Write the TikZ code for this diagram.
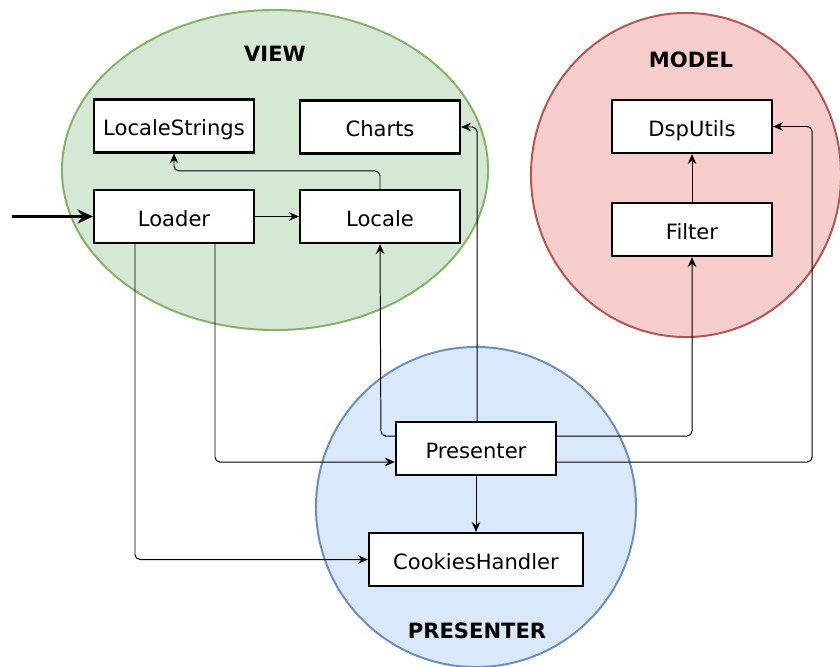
\documentclass[tikz,border=0pt]{standalone}
\usepackage{fontspec}
\setmainfont{DejaVu Sans}
\usetikzlibrary{arrows.meta,calc}
\definecolor{viewfill}{HTML}{D5E8D4}
\definecolor{viewline}{HTML}{82B366}
\definecolor{modelfill}{HTML}{F8CECC}
\definecolor{modelline}{HTML}{B85450}
\definecolor{presfill}{HTML}{DAE8FC}
\definecolor{presline}{HTML}{6C8EBF}
\newcommand{\boxfont}{\fontsize{15}{18}\selectfont}

\begin{document}
\begin{tikzpicture}[x=0.025cm, y=-0.025cm,
    module/.style={draw, line width=1.5pt, fill=white, minimum width=4cm, minimum height=1.325cm, text height=14pt, text depth=0pt, font=\boxfont},
    layer/.style={font=\boxfont\bfseries},
    conn/.style={-{Stealth[length=7pt,width=6pt]}, line width=0.7pt, rounded corners=3.5pt},
    inarrow/.style={-{Stealth[length=11pt,width=10pt]}, line width=2.1pt}]
      \useasboundingbox (0,0) rectangle (840,666);
      \draw[fill=viewfill, draw=viewline, line width=1.4pt] (275,170) ellipse [x radius=5.325cm, y radius=4cm];
      \draw[fill=modelfill, draw=modelline, line width=1.4pt] (686,175) ellipse [x radius=3.875cm, y radius=4.05cm];
      \draw[fill=presfill, draw=presline, line width=1.4pt] (476,507) ellipse [x radius=4cm, y radius=4cm];
      \node[layer] (ViewLbl) at (275,54) {VIEW};
      \node[layer] (ModelLbl) at (691,60) {MODEL};
      \node[layer] (PresLbl) at (477,631) {PRESENTER};
      \node[module] (LocaleStrings) at (174,126) {LocaleStrings};
      \node[module] (Charts) at (380,127) {Charts};
      \node[module] (Loader) at (174,216.5) {Loader};
      \node[module] (Locale) at (380,216.5) {Locale};
      \node[module] (DspUtils) at (692,126.5) {DspUtils};
      \node[module] (Filter) at (692,229.5) {Filter};
      \node[module] (Presenter) at (476,448.5) {Presenter};
      \node[module, minimum width=5.35cm] (Cookies) at (476,559.5) {CookiesHandler};
      \coordinate (Entry) at (12,216.5);
      \draw[inarrow] (Entry) -- (Loader.west);
      \draw[conn] (Loader) -- (Locale);
      \draw[conn] (Locale.north) -- ++(0,-18) -| (LocaleStrings.south);
      \draw[conn] ($(Loader.south)+(-39,0)$) |- (Cookies.west);
      \draw[conn] ($(Loader.south)+(41,0)$) |- ($(Presenter.west)+(0,13.5)$);
      \draw[conn] ($(Presenter.west)+(0,-12.5)$) -- ++(-14,0) -- (Locale.south);
      \draw[conn] ($(Presenter.east)+(0,-12.5)$) -| (Filter.south);
      \draw[conn] ($(Presenter.north)+(1,0)$) |- (Charts.east);
      \draw[conn] ($(Presenter.east)+(0,13.5)$) -- ++(255,0) |- (DspUtils.east);
      \draw[conn] (Presenter) -- (Cookies);
      \draw[conn] (Filter) -- (DspUtils);
\end{tikzpicture}
\end{document}
